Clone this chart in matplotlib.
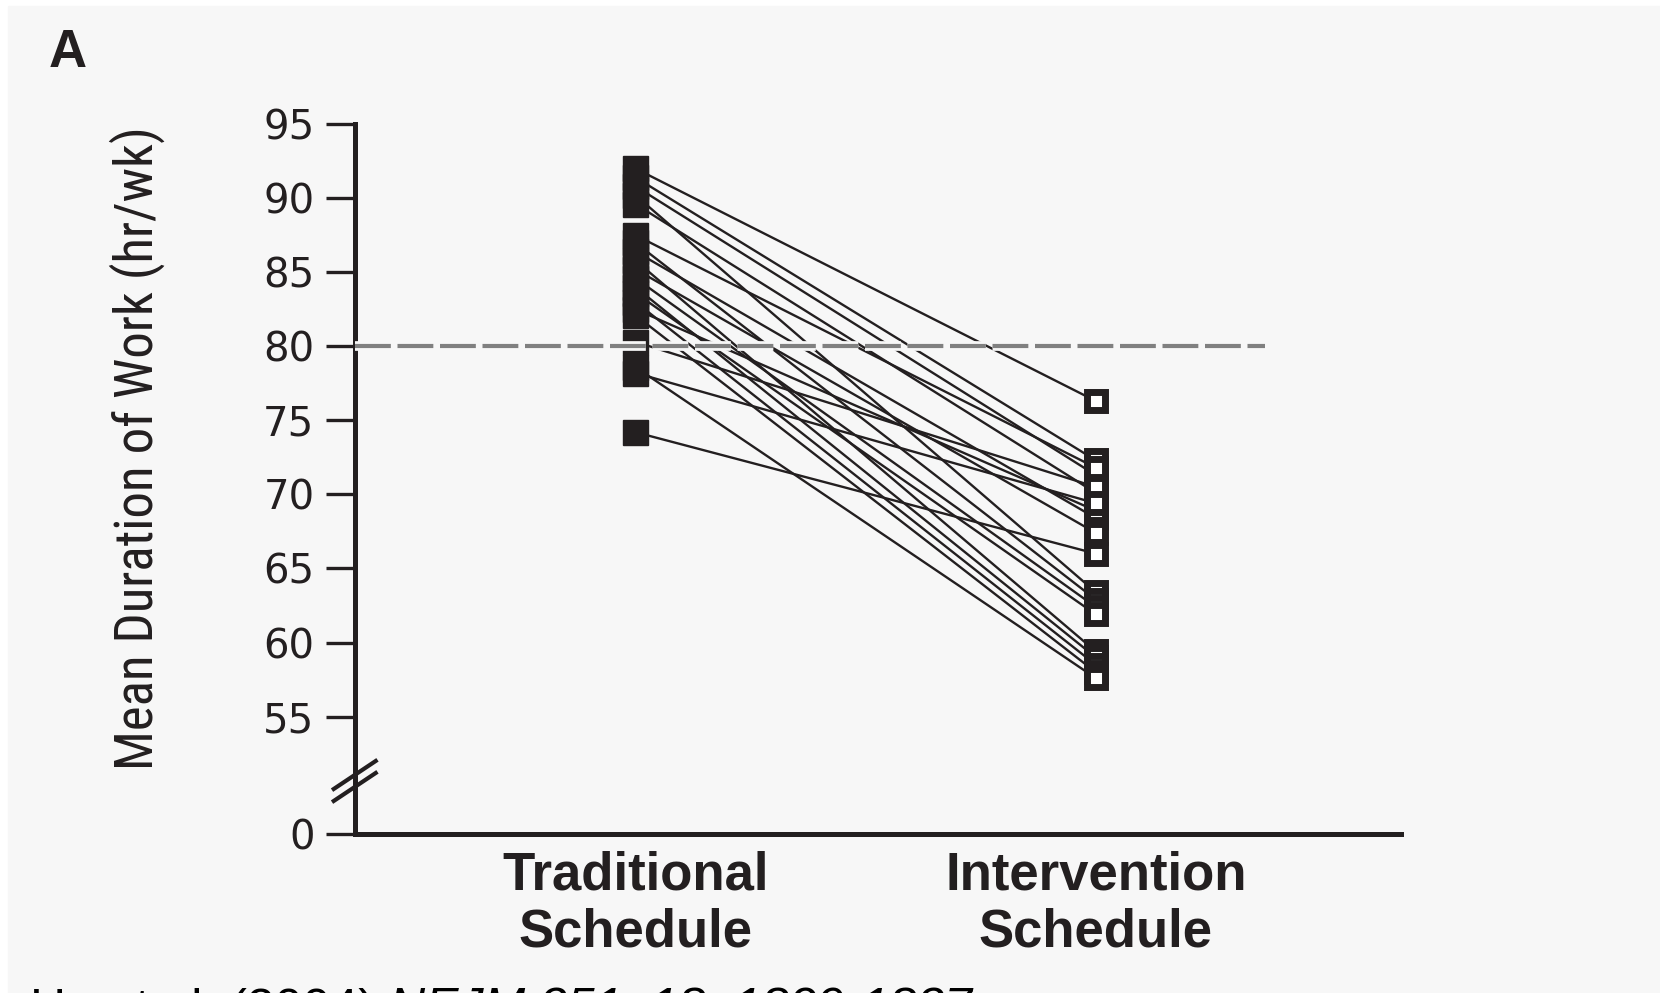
import numpy as np
import matplotlib.pyplot as plt
import matplotlib.patheffects as pe
from matplotlib import font_manager
from matplotlib.font_manager import FontProperties
from matplotlib.patches import Rectangle

# weekly hours per intern, paired by row
traditional = [92.0, 91.4, 90.8, 90.2, 89.6, 87.5, 87.0, 86.4, 85.8, 85.2,
               84.6, 84.0, 83.6, 83.0, 82.5, 82.1, 80.3, 78.6, 78.2, 74.2]
intervention = [76.3, 72.3, 71.3, 63.4, 70.1, 71.8, 62.9, 68.4, 59.4, 67.4,
                62.4, 59.0, 61.9, 58.5, 68.9, 58.0, 70.5, 57.6, 69.4, 66.0]
categories = ['Traditional\nSchedule', 'Intervention\nSchedule']
yticks = [55, 60, 65, 70, 75, 80, 85, 90, 95]
limit_hours = 80
citation = 'Ho et al. (2004) '
journal = 'NEJM 351, 18, 1829-1837'

# where the broken axis puts its "0"
y_floor = 47.08
ink = '#231f20'
bg = '#f7f7f7'

# pick a narrow face for the y label if one is installed
label_font = None
for key in ['LiberationSansNarrow-Regular', 'RobotoCondensed-Regular',
            'RobotoCondensed[', 'DejaVuSansCondensed.', 'OpenSans_Condensed-Regular',
            'OpenSansCondensed-Light']:
    hits = [f.fname for f in font_manager.fontManager.ttflist if key in f.fname]
    if hits:
        label_font = FontProperties(fname=hits[0])
        break
if label_font is None:
    label_font = FontProperties(family='Liberation Sans')

fig = plt.figure(figsize=(16.6, 9.93), dpi=100)
fig.patch.set_facecolor('white')
fig.add_artist(Rectangle((8 / 1660, 0), 1, 1 - 6 / 993, transform=fig.transFigure,
                         color=bg, zorder=-10))

ax = fig.add_axes([0.2137, 0.1601, 0.6301, 0.7151])
ax.set_facecolor('none')

for t, v in zip(traditional, intervention):
    ax.plot([0, 1], [t, v], color=ink, lw=1.7, zorder=2)
ax.plot(np.zeros(len(traditional)), traditional, 's', ms=18, color=ink,
        zorder=3, clip_on=False)
ax.plot(np.ones(len(intervention)), intervention, 's', ms=13.5, mfc='white',
        mec=ink, mew=5, zorder=3, clip_on=False)

ax.set_xlim(-0.609, 1.662)
ax.set_ylim(y_floor, 95)
ax.plot([-0.609, 1.367], [limit_hours, limit_hours], color='#808080', lw=3,
        dashes=(8.6, 1.6), zorder=4, clip_on=False,
        path_effects=[pe.Stroke(linewidth=7, foreground=bg), pe.Normal()])

for side in ['top', 'right']:
    ax.spines[side].set_visible(False)
for side in ['left', 'bottom']:
    ax.spines[side].set_linewidth(3.6)
    ax.spines[side].set_color(ink)

ax.set_yticks(yticks + [y_floor], [str(v) for v in yticks] + ['0'])
ax.tick_params(axis='y', length=21, width=2.4, pad=8, color=ink,
               labelsize=29, labelcolor=ink)
for lab in ax.get_yticklabels():
    lab.set_family('DejaVu Sans')

ax.set_xticks([0, 1], categories)
ax.tick_params(axis='x', length=0, pad=12, labelcolor=ink)
for lab in ax.get_xticklabels():
    lab.set_family('Liberation Sans')
    lab.set_fontweight('bold')
    lab.set_fontsize(38)
    lab.set_linespacing(1.17)

# axis break slashes on the left spine
ax_w, ax_h = 0.6301 * 1660, 0.7151 * 993
yb = (50.66 - y_floor) / (95 - y_floor)
for off in [-6, 6]:
    ax.plot([-21 / ax_w, 21 / ax_w], [yb + (off - 14) / ax_h, yb + (off + 14) / ax_h],
            color=ink, lw=3, transform=ax.transAxes, clip_on=False, zorder=5)

ylab = fig.text(0.0829, 0.5488, 'Mean Duration of Work (hr/wk)', rotation=90,
                ha='center', va='center', fontproperties=label_font, color=ink)
ylab.set_fontsize(34)
fig.text(0.0295, 0.933, 'A', family='Liberation Sans', fontweight='bold',
         fontsize=38, color=ink, va='baseline')

t1 = fig.text(30 / 1660, -0.031, citation, family='Liberation Sans',
              fontsize=36, color='black', va='baseline')
t2 = fig.text(30 / 1660, -0.031, journal, family='Liberation Sans', style='italic',
              fontsize=36, color='black', va='baseline')

# size the y label to its 646 px run and chain the citation pieces
fig.canvas.draw()
h = ylab.get_window_extent().height
ylab.set_fontsize(34 * 646 / h)
t2.set_x(t1.get_window_extent().x1 / fig.bbox.width)

fig.savefig('out.png', dpi=100, facecolor=fig.get_facecolor())
